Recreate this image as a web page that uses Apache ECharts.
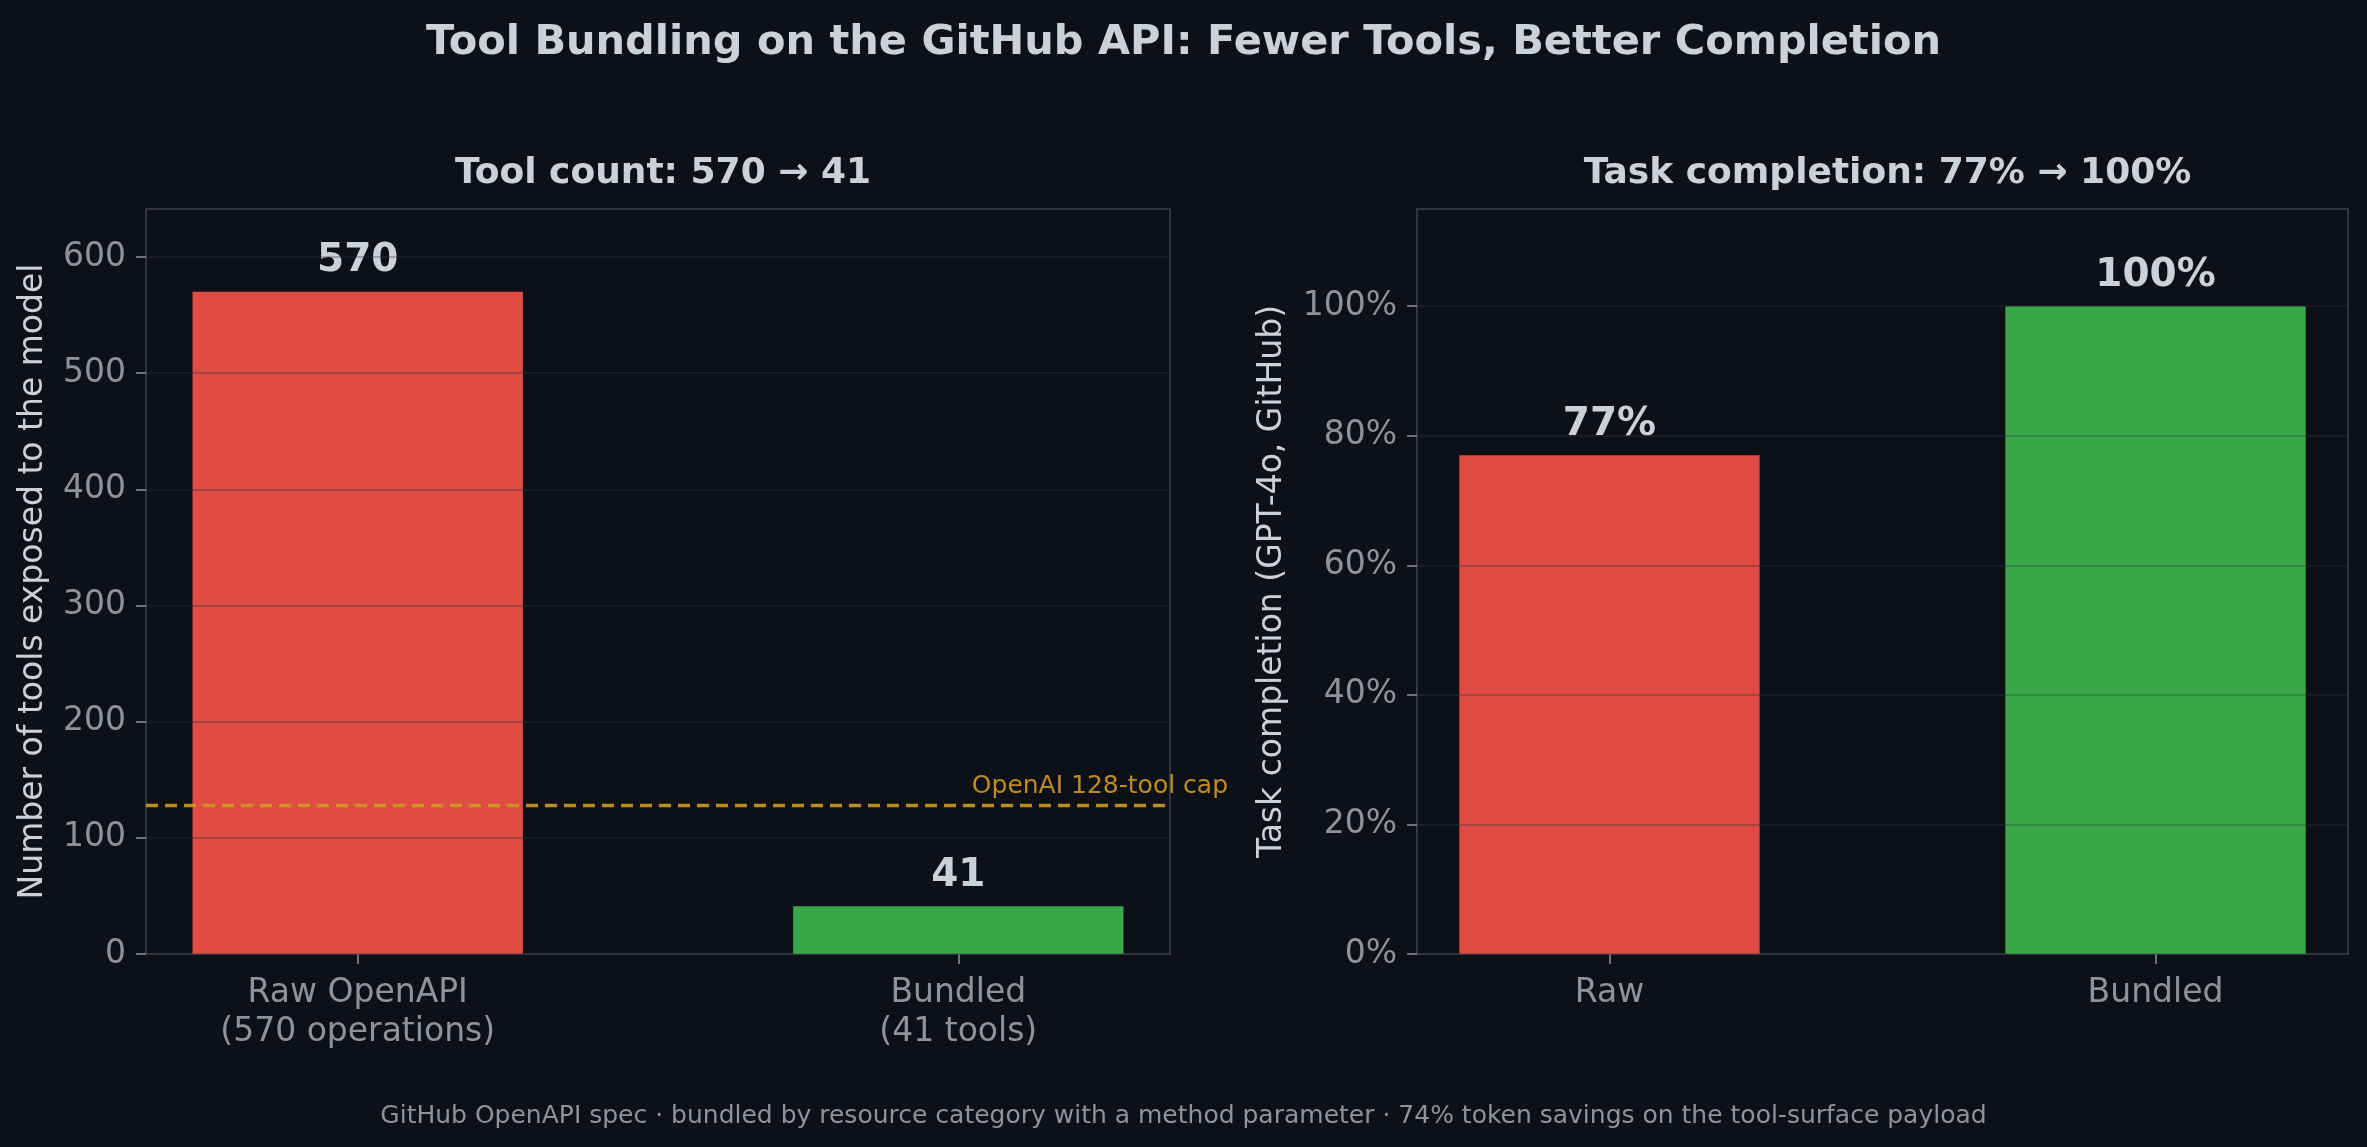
<!DOCTYPE html>
<html>
<head>
<meta charset="utf-8">
<script src="https://cdn.jsdelivr.net/npm/echarts@6/dist/echarts.min.js"></script>
<style>
  html, body { margin: 0; padding: 0; background: #0d1117; }
  #chart { width: 2367px; height: 1147px; }
</style>
</head>
<body>
<div id="chart"></div>
<script>
// data
const toolLabels = ['Raw OpenAPI\n(570 operations)', 'Bundled\n(41 tools)'];
const toolCounts = [570, 41];
const completionLabels = ['Raw', 'Bundled'];
const completionPct = [77, 100];
const toolTicks = [0, 100, 200, 300, 400, 500, 600];
const pctTicks = [0, 20, 40, 60, 80, 100];
const toolCap = 128;
const barColors = ['#e04b44', '#3aa84a'];

const bg = '#0d1117';
const textColor = '#c9d1d9';
const tickColor = '#8b949e';
const frameColor = '#30363d';
const font = 'DejaVu Sans';

// x range like matplotlib margins around bars of width 0.55
const xMin = -0.3525, xMax = 1.3525, barFrac = 0.55;
const gridL = { left: 146, top: 209, width: 1024, height: 745 };
const gridR = { left: 1417, top: 209, width: 931, height: 745 };

function xAxisFor(gridIndex, labels) {
    return {
        type: 'value',
        gridIndex: gridIndex,
        min: xMin,
        max: xMax,
        axisLine: { show: true, onZero: false, lineStyle: { color: frameColor, width: 2 } },
        axisTick: { show: true, customValues: [0, 1], length: 10, lineStyle: { color: tickColor, width: 1.5 } },
        axisLabel: {
            customValues: [0, 1],
            formatter: v => labels[Math.round(v)],
            color: tickColor,
            fontFamily: font,
            fontSize: 33,
            lineHeight: 39,
            margin: 20
        },
        splitLine: { show: false }
    };
}

function yAxisFor(gridIndex, max, ticks, fmt, name, gap) {
    return {
        type: 'value',
        gridIndex: gridIndex,
        min: 0,
        max: max,
        interval: ticks[1] - ticks[0],
        z: 3,
        name: name,
        nameLocation: 'middle',
        nameGap: gap,
        nameTextStyle: { color: textColor, fontFamily: font, fontSize: 33 },
        axisLine: { show: true, onZero: false, lineStyle: { color: frameColor, width: 2 } },
        axisTick: { show: true, customValues: ticks, length: 10, lineStyle: { color: tickColor, width: 1.5 } },
        axisLabel: {
            customValues: ticks,
            formatter: fmt,
            color: tickColor,
            fontFamily: font,
            fontSize: 33,
            margin: 20
        },
        splitLine: { show: true, lineStyle: { color: 'rgba(48,54,61,0.32)', width: 2 } }
    };
}

const option = {
    backgroundColor: bg,
    animation: false,
    title: [
        {
            text: 'Tool Bundling on the GitHub API: Fewer Tools, Better Completion',
            left: 'center', top: 17,
            textStyle: { color: textColor, fontFamily: font, fontSize: 41.5, fontWeight: 'bold' }
        },
        {
            text: 'Tool count: 570 \u2192 41',
            left: gridL.left + gridL.width / 2, textAlign: 'center', top: 151,
            textStyle: { color: textColor, fontFamily: font, fontSize: 36, fontWeight: 'bold' }
        },
        {
            text: 'Task completion: 77% \u2192 100%',
            left: gridR.left + gridR.width / 2, textAlign: 'center', top: 151,
            textStyle: { color: textColor, fontFamily: font, fontSize: 36, fontWeight: 'bold' }
        },
        {
            text: 'GitHub OpenAPI spec \u00b7 bundled by resource category with a method parameter \u00b7 74% token savings on the tool-surface payload',
            left: 'center', top: 1099,
            textStyle: { color: tickColor, fontFamily: font, fontSize: 25, fontWeight: 'normal' }
        }
    ],
    grid: [
        Object.assign({ show: true, borderColor: frameColor, borderWidth: 2, backgroundColor: 'transparent' }, gridL),
        Object.assign({ show: true, borderColor: frameColor, borderWidth: 2, backgroundColor: 'transparent' }, gridR)
    ],
    xAxis: [
        xAxisFor(0, toolLabels),
        xAxisFor(1, completionLabels)
    ],
    yAxis: [
        yAxisFor(0, toolCounts[0] * 1.125, toolTicks, '{value}', 'Number of tools exposed to the model', 96),
        yAxisFor(1, 115, pctTicks, '{value}%', 'Task completion (GPT-4o, GitHub)', 128)
    ],
    series: [
        {
            type: 'bar',
            xAxisIndex: 0,
            yAxisIndex: 0,
            barWidth: barFrac / (xMax - xMin) * gridL.width,
            data: toolCounts.map((v, i) => ({ value: [i, v], itemStyle: { color: barColors[i] } })),
            label: {
                show: true,
                position: 'top',
                distance: 11,
                formatter: p => p.value[1],
                color: textColor,
                fontFamily: font,
                fontSize: 39,
                fontWeight: 'bold'
            },
            markLine: {
                silent: true,
                symbol: 'none',
                lineStyle: { color: '#d29922', type: [12, 7], width: 3.3, opacity: 0.9 },
                label: {
                    show: true,
                    position: 'insideEndTop',
                    distance: [-58, 6],
                    formatter: 'OpenAI 128-tool cap',
                    color: '#d29922',
                    fontFamily: font,
                    fontSize: 25
                },
                data: [{ yAxis: toolCap }]
            }
        },
        {
            type: 'bar',
            xAxisIndex: 1,
            yAxisIndex: 1,
            barWidth: barFrac / (xMax - xMin) * gridR.width,
            data: completionPct.map((v, i) => ({ value: [i, v], itemStyle: { color: barColors[i] } })),
            label: {
                show: true,
                position: 'top',
                distance: 11,
                formatter: p => p.value[1] + '%',
                color: textColor,
                fontFamily: font,
                fontSize: 39,
                fontWeight: 'bold'
            }
        }
    ]
};

const chart = echarts.init(document.getElementById('chart'));
chart.setOption(option);
</script>
</body>
</html>
